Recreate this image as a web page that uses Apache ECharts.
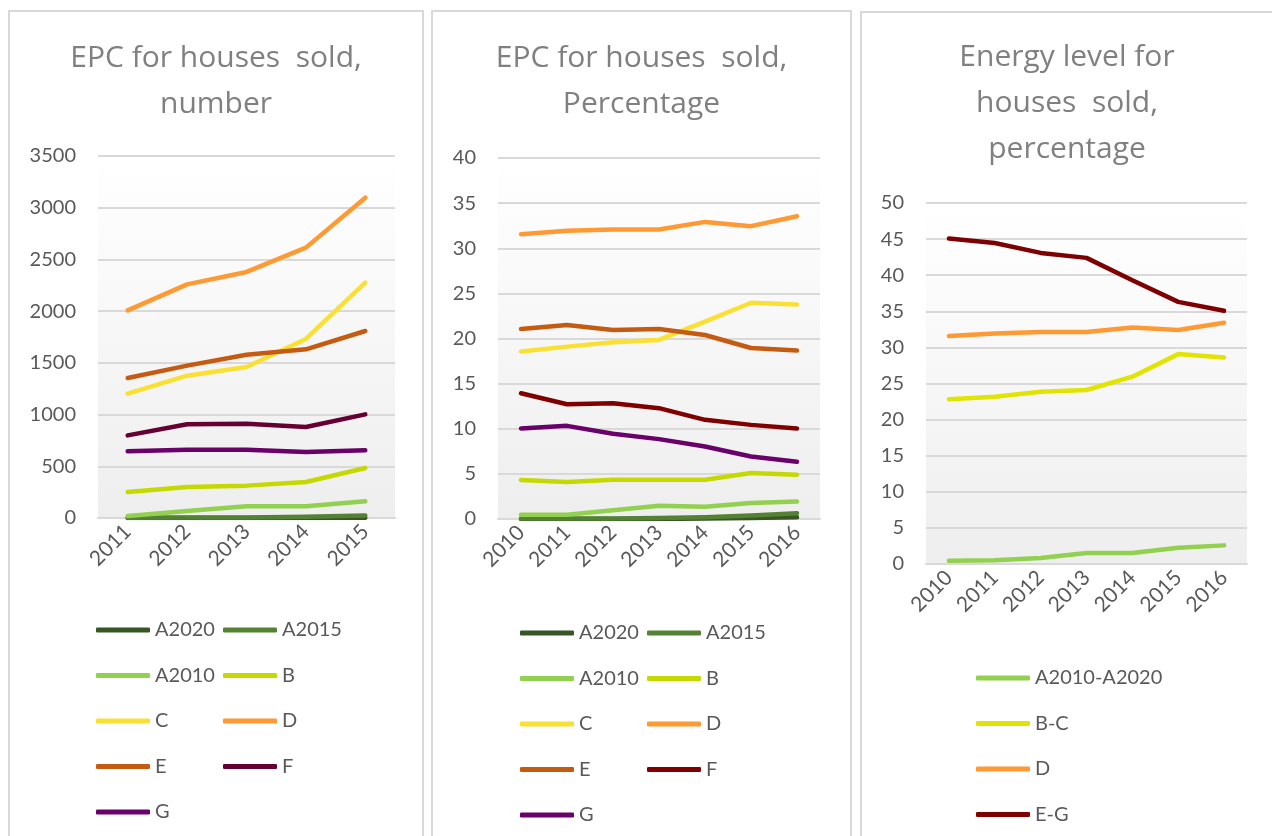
<!DOCTYPE html>
<html>
<head>
    <meta charset="utf-8">
    <title>EPC houses sold</title>
    <script src="https://cdn.jsdelivr.net/npm/echarts@6/dist/echarts.min.js"></script>
    <style>
        body { margin: 0; background: #fff; overflow: hidden; }
        .panel { position: absolute; border: 2px solid #d9d9d9; background: #fff; }
    </style>
</head>
<body>
    <div id="p1" class="panel" style="left:8px;top:10px;width:412px;height:840px;"></div>
    <div id="p2" class="panel" style="left:431px;top:10px;width:417px;height:840px;"></div>
    <div id="p3" class="panel" style="left:860px;top:11px;width:410px;height:840px;"></div>
    <script type="text/javascript">
// x categories
var years1 = ['2011', '2012', '2013', '2014', '2015'];
var years2 = ['2010', '2011', '2012', '2013', '2014', '2015', '2016'];

// panel 1 - EPC, number
var a2020_n = [0, 0, 0, 1, 3];
var a2015_n = [2, 4, 6, 12, 25];
var a2010_n = [19, 68, 113, 113, 161];
var b_n = [251, 300, 313, 348, 483];
var c_n = [1202, 1376, 1460, 1731, 2275];
var d_n = [2008, 2259, 2379, 2614, 3097];
var e_n = [1354, 1473, 1579, 1631, 1808];
var f_n = [799, 906, 912, 880, 1002];
var g_n = [645, 661, 661, 638, 654];

// panel 2 - EPC, percentage
var a2020_p = [0, 0, 0, 0, 0.05, 0.1, 0.2];
var a2015_p = [0.05, 0.05, 0.05, 0.1, 0.2, 0.4, 0.65];
var a2010_p = [0.48, 0.48, 0.96, 1.47, 1.36, 1.77, 1.95];
var b_p = [4.31, 4.09, 4.35, 4.35, 4.35, 5.09, 4.9];
var c_p = [18.55, 19.1, 19.58, 19.84, 21.86, 23.96, 23.78];
var d_p = [31.56, 31.93, 32.08, 32.08, 32.92, 32.45, 33.55];
var e_p = [21.05, 21.5, 20.94, 21.05, 20.39, 18.95, 18.66];
var f_p = [13.94, 12.72, 12.83, 12.28, 10.99, 10.43, 10.03];
var g_p = [10.03, 10.32, 9.44, 8.85, 8.04, 6.93, 6.34];

// panel 3 - energy level, percentage
var aa_e = [0.46, 0.51, 0.83, 1.52, 1.52, 2.26, 2.58];
var bc_e = [22.81, 23.18, 23.87, 24.1, 25.94, 29.07, 28.6];
var d_e = [31.57, 31.93, 32.12, 32.12, 32.76, 32.4, 33.41];
var eg_e = [45.07, 44.47, 43.09, 42.4, 39.31, 36.31, 35.07];

var names9 = ['A2020', 'A2015', 'A2010', 'B', 'C', 'D', 'E', 'F', 'G'];
var names4 = ['A2010-A2020', 'B-C', 'D', 'E-G'];
var colors1 = ['#375623', '#548235', '#92d050', '#c5d900', '#fbe034', '#ff9933', '#c55a11', '#660033', '#6a006a'];
var colors2 = ['#375623', '#548235', '#92d050', '#c5d900', '#fbe034', '#ff9933', '#c55a11', '#800000', '#6a006a'];
var colors3 = ['#92d050', '#e0e400', '#ff9933', '#7f0000'];

var FONT = 'Lato';
var TXT = '#595959';

function legendBlock(names, left, top) {
    return {
        orient: 'vertical', left: left, top: top, data: names, padding: 0,
        icon: 'roundRect', itemWidth: 54, itemHeight: 5, itemGap: 25.5,
        textStyle: { color: TXT, fontSize: 20, lineHeight: 18, fontFamily: FONT }
    };
}

function makeChart(id, cfg) {
    var chart = echarts.init(document.getElementById(id));
    var series = cfg.names.map(function (n, i) {
        return {
            name: n, type: 'line', data: cfg.data[i],
            symbol: 'none', smooth: false,
            itemStyle: { color: cfg.colors[i] },
            lineStyle: { width: 4.5, color: cfg.colors[i], cap: 'round', join: 'round' }
        };
    });
    var option = {
        animation: false,
        title: {
            text: cfg.title, left: 'center', top: cfg.titleTop,
            textStyle: { color: '#808080', fontSize: 30, fontWeight: 'normal', fontFamily: 'Open Sans', lineHeight: 46 }
        },
        legend: cfg.legends,
        grid: {
            left: cfg.grid[0], top: cfg.grid[1], width: cfg.grid[2], height: cfg.grid[3],
            show: true, borderWidth: 0,
            backgroundColor: new echarts.graphic.LinearGradient(0, 0, 0, 1, [
                { offset: 0, color: '#ffffff' },
                { offset: 0.12, color: '#fdfdfd' },
                { offset: 1, color: '#eeeeee' }
            ])
        },
        xAxis: {
            type: 'category', data: cfg.cats, boundaryGap: true,
            axisLine: { show: true, lineStyle: { color: '#d9d9d9', width: 2 } },
            axisTick: { show: false },
            axisLabel: { rotate: 45, margin: 10, color: TXT, fontSize: 21, fontFamily: FONT }
        },
        yAxis: {
            type: 'value', min: 0, max: cfg.max, interval: cfg.interval,
            axisLine: { show: false }, axisTick: { show: false },
            splitLine: { lineStyle: { color: '#d9d9d9', width: 2 } },
            axisLabel: { margin: 22, color: TXT, fontSize: 20, fontFamily: FONT,
                formatter: function (v) { return String(v); } }
        },
        series: series
    };
    chart.setOption(option);
    return chart;
}

makeChart('p1', {
    title: 'EPC for houses  sold,\nnumber', titleTop: 18,
    cats: years1, max: 3500, interval: 500,
    grid: [88, 144, 297, 362],
    names: names9, colors: colors1,
    data: [a2020_n, a2015_n, a2010_n, b_n, c_n, d_n, e_n, f_n, g_n],
    legends: [
        legendBlock(['A2020', 'A2010', 'C', 'E', 'G'], 86, 608),
        legendBlock(['A2015', 'B', 'D', 'F'], 213, 608)
    ]
});

makeChart('p2', {
    title: 'EPC for houses  sold,\nPercentage', titleTop: 18,
    cats: years2, max: 40, interval: 5,
    grid: [65, 146, 322, 361],
    names: names9, colors: colors2,
    data: [a2020_p, a2015_p, a2010_p, b_p, c_p, d_p, e_p, f_p, g_p],
    legends: [
        legendBlock(['A2020', 'A2010', 'C', 'E', 'G'], 87, 611),
        legendBlock(['A2015', 'B', 'D', 'F'], 214, 611)
    ]
});

makeChart('p3', {
    title: 'Energy level for\nhouses  sold,\npercentage', titleTop: 16,
    cats: years2, max: 50, interval: 5,
    grid: [64, 190, 321, 361],
    names: names4, colors: colors3,
    data: [aa_e, bc_e, d_e, eg_e],
    legends: [legendBlock(names4, 114, 655)]
});
    </script>
</body>
</html>
